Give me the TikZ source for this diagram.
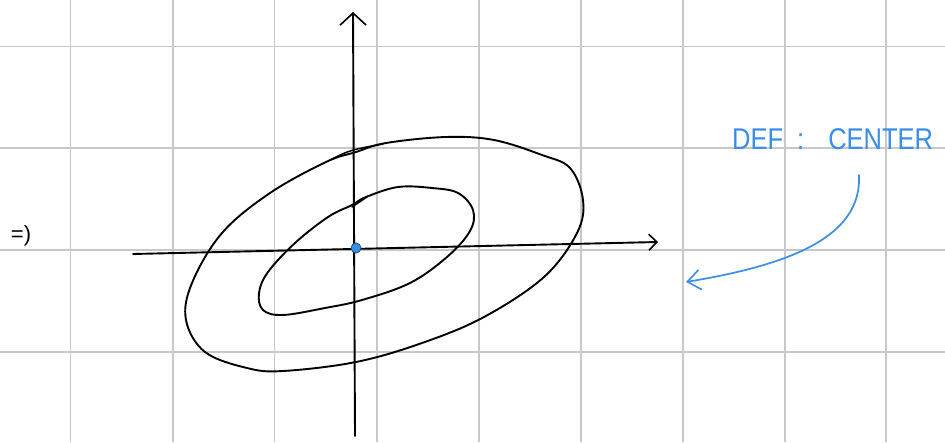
\documentclass[tikz,border=0pt]{standalone}
\usepackage{fontspec}
\setmainfont{Liberation Sans}
\usetikzlibrary{arrows.meta}
\definecolor{penblue}{HTML}{3A8EE6}
\definecolor{gridgray}{HTML}{C8C8C8}
\tikzset{
  gridline/.style={draw=gridgray, line width=1.6pt},
  ink/.style={draw=black, line width=1.9pt, line cap=round, line join=round},
  axis/.style={ink, -{Straight Barb[length=8pt,width=16pt,line width=1.6pt]}},
  bigaxis/.style={ink, -{Straight Barb[length=12pt,width=26pt,line width=1.6pt]}},
  bluetext/.style={text=penblue, font=\fontsize{30}{32}\selectfont\addfontfeature{FakeStretch=0.85}, inner sep=0pt},
  bluearrow/.style={draw=penblue, line width=1.7pt, line cap=round,
    -{Straight Barb[length=13pt,width=20pt,line width=1.6pt]}},
}
\begin{document}
\begin{tikzpicture}[x=1pt,y=-1pt]
\useasboundingbox (0,0) rectangle (945,442);
\fill[white] (0,0) rectangle (945,442);
% grid
\foreach \gx in {70.5,173,274.5,377,479,581,683,785,886}
  \draw[gridline] (\gx,0) -- (\gx,442);
\foreach \gy in {46.5,148,250,352}
  \draw[gridline] (0,\gy) -- (945,\gy);
% axes
\coordinate (xs) at (133,254);
\coordinate (xe) at (658,242);
\coordinate (ys) at (355,436);
\coordinate (ye) at (353,12);
\draw[bigaxis] (ys) -- (ye);
\draw[axis] (xs) -- (xe);
% outer contour
\draw[ink] plot[smooth cycle, tension=0.6] coordinates {
  (356,152) (386,143) (446,137) (494,140) (542,155) (570,168) (583,200)
  (577,233) (544,277) (484,317) (422,343) (356,362) (283,371) (247,368)
  (205,352) (186,320) (192,283) (222,233) (270,193) (326,162)};
\draw[ink, line width=1.5pt] (330,160) .. controls (350,150) .. (383,144);
% inner contour
\draw[ink] plot[smooth cycle, tension=0.6] coordinates {
  (366,197) (398,187) (432,188) (458,193) (473,210) (470,231) (447,257)
  (410,283) (362,300) (325,308) (283,315) (263,310) (259,293) (268,272)
  (295,243) (328,217) (352,205)};
\draw[ink, line width=1.5pt] (352,207) -- (367,197);
% center point
\node[circle, fill=penblue, draw=penblue!55!black, line width=0.8pt,
  inner sep=0pt, minimum size=10pt] (c) at (356,248) {};
% left mark
\node[font=\fontsize{22}{24}\selectfont, inner sep=0pt] (impl) at (21,236) {=)};
% label and arrow
\node[bluetext, anchor=base west] (def) at (732,149)
  {DEF\hspace{14pt}:\hspace{24pt}CENTER};
\coordinate (as) at (859,175);
\coordinate (ae) at (686,282);
\draw[bluearrow] (as) .. controls (862,235) and (795,264) .. (ae);
\end{tikzpicture}
\end{document}
